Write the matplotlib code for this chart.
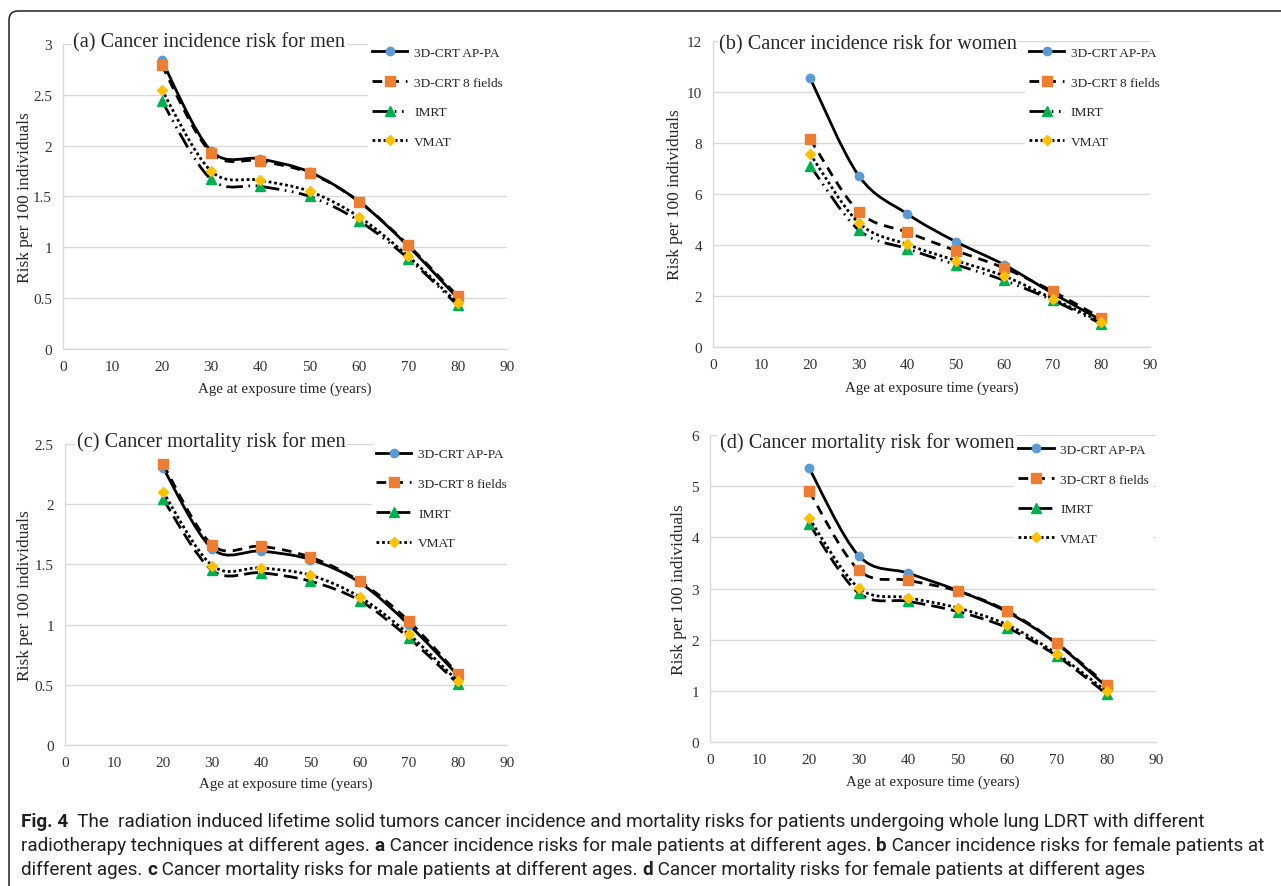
import matplotlib
matplotlib.use("Agg")
import matplotlib.pyplot as plt
from matplotlib.lines import Line2D
from matplotlib.path import Path
from matplotlib.patches import PathPatch, FancyBboxPatch
from matplotlib.offsetbox import TextArea, HPacker, AnchoredOffsetbox
from matplotlib.transforms import IdentityTransform

ages = [20, 30, 40, 50, 60, 70, 80]
series_names = ["3D-CRT AP-PA", "3D-CRT 8 fields", "IMRT", "VMAT"]

# (a) incidence, men
inc_men_appa = [2.84, 1.95, 1.87, 1.74, 1.45, 1.01, 0.50]
inc_men_8f = [2.79, 1.93, 1.85, 1.73, 1.45, 1.02, 0.52]
inc_men_imrt = [2.44, 1.67, 1.60, 1.50, 1.26, 0.89, 0.43]
inc_men_vmat = [2.55, 1.75, 1.66, 1.55, 1.30, 0.91, 0.45]
# (b) incidence, women
inc_wom_appa = [10.54, 6.72, 5.22, 4.13, 3.22, 2.10, 1.05]
inc_wom_8f = [8.15, 5.31, 4.50, 3.78, 3.09, 2.18, 1.13]
inc_wom_imrt = [7.11, 4.59, 3.85, 3.23, 2.61, 1.83, 0.91]
inc_wom_vmat = [7.57, 4.87, 4.02, 3.39, 2.78, 1.89, 0.98]
# (c) mortality, men
mort_men_appa = [2.30, 1.63, 1.61, 1.54, 1.35, 1.00, 0.58]
mort_men_8f = [2.33, 1.66, 1.65, 1.56, 1.36, 1.03, 0.59]
mort_men_imrt = [2.04, 1.45, 1.43, 1.36, 1.20, 0.89, 0.51]
mort_men_vmat = [2.10, 1.49, 1.47, 1.41, 1.23, 0.92, 0.53]
# (d) mortality, women
mort_wom_appa = [5.35, 3.64, 3.30, 2.96, 2.54, 1.92, 1.08]
mort_wom_8f = [4.90, 3.36, 3.16, 2.95, 2.56, 1.93, 1.12]
mort_wom_imrt = [4.26, 2.91, 2.75, 2.55, 2.23, 1.68, 0.94]
mort_wom_vmat = [4.37, 3.01, 2.82, 2.62, 2.29, 1.72, 0.99]

titles = ["(a) Cancer incidence risk for men", "(b) Cancer incidence risk for women",
          "(c) Cancer mortality risk for men", "(d) Cancer mortality risk for women"]
y_max = [3, 12, 2.5, 6]
y_step = [0.5, 2, 0.5, 1]
y_ticklabels = [["0", "0.5", "1", "1.5", "2", "2.5", "3"],
                ["0", "2", "4", "6", "8", "10", "12"],
                ["0", "0.5", "1", "1.5", "2", "2.5"],
                ["0", "1", "2", "3", "4", "5", "6"]]
panel_data = [
    [inc_men_appa, inc_men_8f, inc_men_imrt, inc_men_vmat],
    [inc_wom_appa, inc_wom_8f, inc_wom_imrt, inc_wom_vmat],
    [mort_men_appa, mort_men_8f, mort_men_imrt, mort_men_vmat],
    [mort_wom_appa, mort_wom_8f, mort_wom_imrt, mort_wom_vmat],
]

caption_lines = [
    [("Fig. 4", True), ("  The  radiation induced lifetime solid tumors cancer incidence and mortality risks "
                        "for patients undergoing whole lung LDRT with different", False)],
    [("radiotherapy techniques at different ages. ", False), ("a", True),
     (" Cancer incidence risks for male patients at different ages. ", False), ("b", True),
     (" Cancer incidence risks for female patients at", False)],
    [("different ages. ", False), ("c", True),
     (" Cancer mortality risks for male patients at different ages. ", False), ("d", True),
     (" Cancer mortality risks for female patients at different ages", False)],
]

# styling
marker_colors = ["#5B9BD5", "#ED7D31", "#00B050", "#FFC000"]
markers = ["o", "s", "^", "D"]
marker_sizes = [6, 6.5, 6.5, 5.5]
dash_appa = "solid"
dash_8f = (0, (3.5, 2.5))
dash_imrt_inc = (0, (6, 2, 0.6, 2, 0.6, 2))
dash_imrt_mort = (0, (5, 2.2))
dash_vmat = (0, (1, 1))
panel_dashes = [
    [dash_appa, dash_8f, dash_imrt_inc, dash_vmat],
    [dash_appa, dash_8f, dash_imrt_inc, dash_vmat],
    [dash_appa, dash_8f, dash_imrt_mort, dash_vmat],
    [dash_appa, dash_8f, dash_imrt_mort, dash_vmat],
]

# axes rectangles in figure fraction and in-axes anchors
axes_rects = [(0.0492, 0.6054, 0.3466, 0.3439), (0.5566, 0.6077, 0.3411, 0.3450),
              (0.0507, 0.1590, 0.3450, 0.3393), (0.5543, 0.1623, 0.3482, 0.3461)]
title_pos = [(0.023, 1.006), (0.014, 0.99), (0.027, 1.01), (0.022, 0.977)]
legend_anchor = [(0.687, 1.004), (0.714, 0.994), (0.695, 1.0), (0.682, 0.985)]
ylabel_x = [-0.068, -0.069, -0.072, -0.052]
xlabel_y = [-0.108, -0.111, -0.106, -0.107]

serif = "Liberation Serif"
cap_font = "Roboto"
grid_color = "#D9D9D9"
text_color = "#262626"
line_w = 2.0


def smooth_path(xs, ys):
    # Bezier segments through the points, like a spreadsheet "smoothed line"
    pts = list(zip(xs, ys))
    n = len(pts)
    verts = [pts[0]]
    codes = [Path.MOVETO]
    for i in range(n - 1):
        p0 = pts[max(i - 1, 0)]
        p1 = pts[i]
        p2 = pts[i + 1]
        p3 = pts[min(i + 2, n - 1)]
        c1 = (p1[0] + (p2[0] - p0[0]) / 6, p1[1] + (p2[1] - p0[1]) / 6)
        c2 = (p2[0] - (p3[0] - p1[0]) / 6, p2[1] - (p3[1] - p1[1]) / 6)
        verts += [c1, c2, p2]
        codes += [Path.CURVE4] * 3
    return Path(verts, codes)


fig = plt.figure(figsize=(12.81, 8.87), dpi=100)

for k in range(4):
    ax = fig.add_axes(axes_rects[k])
    handles = []
    for s in range(4):
        vals = panel_data[k][s]
        patch = PathPatch(smooth_path(ages, vals), fill=False, edgecolor="black",
                          linewidth=line_w, linestyle=panel_dashes[k][s], zorder=3 + s)
        ax.add_patch(patch)
        ax.plot(ages, vals, linestyle="none", marker=markers[s], markersize=marker_sizes[s],
                markerfacecolor=marker_colors[s], markeredgecolor=marker_colors[s], zorder=3.5 + s)
        handles.append(Line2D([], [], color="black", linewidth=line_w, linestyle=panel_dashes[k][s],
                              marker=markers[s], markersize=marker_sizes[s],
                              markerfacecolor=marker_colors[s], markeredgecolor=marker_colors[s]))
    ax.set_xlim(0, 90)
    ax.set_ylim(0, y_max[k])
    ax.set_xticks(range(0, 91, 10))
    ax.set_xticklabels([str(v) for v in range(0, 91, 10)])
    yt = [i * y_step[k] for i in range(len(y_ticklabels[k]))]
    ax.set_yticks(yt)
    ax.set_yticklabels(y_ticklabels[k])
    ax.tick_params(length=0, pad=8, labelsize=11, labelcolor="#333333")
    for lab in ax.get_xticklabels() + ax.get_yticklabels():
        lab.set_fontfamily(serif)
    ax.grid(axis="y", color=grid_color, linewidth=1)
    ax.set_axisbelow(True)
    for side in ["top", "right"]:
        ax.spines[side].set_visible(False)
    for side in ["left", "bottom"]:
        ax.spines[side].set_color(grid_color)
        ax.spines[side].set_linewidth(1)
    ax.set_ylabel("Risk per 100 individuals", fontfamily=serif, fontsize=12.5, color=text_color)
    ax.set_xlabel("Age at exposure time (years)", fontfamily=serif, fontsize=10.8, color=text_color)
    ax.yaxis.set_label_coords(ylabel_x[k], 0.5)
    ax.xaxis.set_label_coords(0.5, xlabel_y[k])
    ax.text(title_pos[k][0], title_pos[k][1], titles[k], transform=ax.transAxes, ha="left",
            va="center", fontfamily=serif, fontsize=14.6, color=text_color, zorder=20,
            bbox=dict(facecolor="white", edgecolor="none", pad=1))
    leg = ax.legend(handles, series_names, loc="upper left", bbox_to_anchor=legend_anchor[k],
                    prop={"family": serif, "size": 9.6}, handlelength=2.65, handletextpad=0.5,
                    labelspacing=1.3, borderpad=0.3, borderaxespad=0, frameon=True,
                    facecolor="white", edgecolor="none", framealpha=1, numpoints=1)
    for t in leg.get_texts():
        t.set_color(text_color)
    leg.set_zorder(20)

# caption
caption_y = [0.063, 0.036, 0.009]
for i, segs in enumerate(caption_lines):
    boxes = [TextArea(t, textprops=dict(fontfamily=cap_font, fontsize=13.6, color="#231F20",
                                        fontweight="bold" if b else "normal")) for t, b in segs]
    row = HPacker(children=boxes, align="baseline", pad=0, sep=0)
    anch = AnchoredOffsetbox(loc="lower left", child=row, pad=0, borderpad=0, frameon=False,
                             bbox_to_anchor=(0.0164, caption_y[i]), bbox_transform=fig.transFigure)
    fig.add_artist(anch)

# outer frame with rounded top-left corner
frame = FancyBboxPatch((9, -40), 1400, 887 - 12 + 40, boxstyle="round,pad=0,rounding_size=9",
                       transform=IdentityTransform(), fill=False, edgecolor="#231F20", linewidth=1.1)
fig.add_artist(frame)

fig.savefig("out.png", dpi=100)
